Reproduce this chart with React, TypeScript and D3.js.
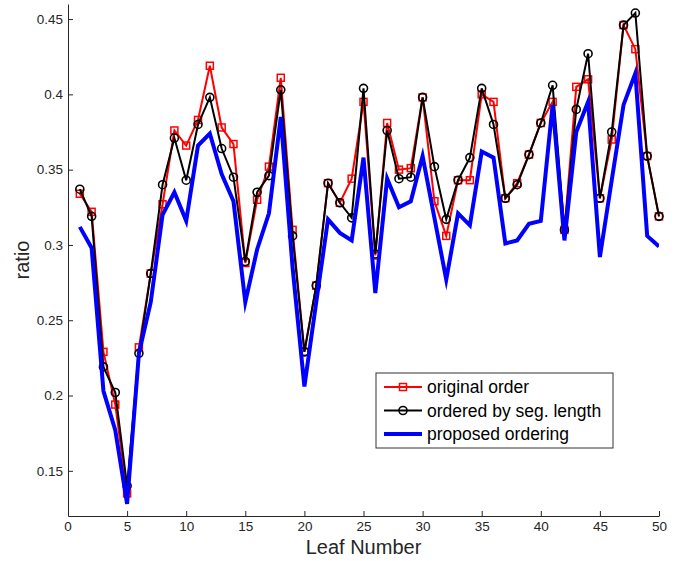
import { useEffect, useRef } from 'react';
import * as d3 from 'd3';

// leaf numbers 1..50
const leaves = [
  1, 2, 3, 4, 5, 6, 7, 8, 9, 10, 11, 12, 13, 14, 15, 16, 17, 18, 19, 20, 21, 22, 23, 24, 25,
  26, 27, 28, 29, 30, 31, 32, 33, 34, 35, 36, 37, 38, 39, 40, 41, 42, 43, 44, 45, 46, 47, 48, 49, 50,
];

const originalOrder = [
  0.334, 0.322, 0.229, 0.194, 0.135, 0.232, 0.281, 0.327, 0.376, 0.366,
  0.383, 0.419, 0.378, 0.367, 0.288, 0.33, 0.352, 0.411, 0.31, 0.229,
  0.273, 0.341, 0.328, 0.344, 0.395, 0.293, 0.381, 0.35, 0.351, 0.398,
  0.329, 0.306, 0.343, 0.343, 0.4, 0.395, 0.331, 0.341, 0.36, 0.381,
  0.395, 0.31, 0.405, 0.41, 0.331, 0.37, 0.446, 0.43, 0.359, 0.319,
];

const segLengthOrder = [
  0.337, 0.319, 0.219, 0.202, 0.14, 0.228, 0.281, 0.34, 0.371, 0.343,
  0.38, 0.398, 0.364, 0.345, 0.289, 0.335, 0.346, 0.403, 0.306, 0.229,
  0.273, 0.341, 0.328, 0.318, 0.404, 0.294, 0.376, 0.344, 0.345, 0.398,
  0.352, 0.317, 0.343, 0.358, 0.404, 0.38, 0.331, 0.34, 0.36, 0.381,
  0.406, 0.31, 0.39, 0.427, 0.331, 0.375, 0.446, 0.454, 0.359, 0.319,
];

const proposedOrder = [
  0.312, 0.298, 0.203, 0.177, 0.128, 0.228, 0.262, 0.32, 0.335, 0.316,
  0.366, 0.374, 0.347, 0.329, 0.262, 0.297, 0.321, 0.385, 0.285, 0.206,
  0.262, 0.317, 0.308, 0.303, 0.358, 0.268, 0.344, 0.325, 0.329, 0.359,
  0.318, 0.277, 0.321, 0.313, 0.362, 0.358, 0.301, 0.303, 0.314, 0.316,
  0.393, 0.303, 0.375, 0.395, 0.292, 0.343, 0.393, 0.414, 0.306, 0.299,
];

const xTicks = [5, 10, 15, 20, 25, 30, 35, 40, 45, 50];
const yTicks = [0.15, 0.2, 0.25, 0.3, 0.35, 0.4, 0.45];
const legendLabels = ['original order', 'ordered by seg. length', 'proposed ordering'];

export default function App() {
  const svgRef = useRef<SVGSVGElement>(null);

  useEffect(() => {
    if (!svgRef.current) return;
    document.body.style.margin = '0';

    const width = 690;
    const height = 561;
    const left = 68;
    const right = 659;
    const top = 4;
    const bottom = 516;
    const font = 'Liberation Sans, Arial, Helvetica, sans-serif';

    const svg = d3.select(svgRef.current);
    svg.selectAll('*').remove();
    svg.attr('width', width).attr('height', height);

    const x = d3.scaleLinear().domain([0, 50]).range([left, right]);
    const y = d3.scaleLinear().domain([0.12, 0.46]).range([bottom, top]);

    svg
      .append('defs')
      .append('clipPath')
      .attr('id', 'plot-clip')
      .append('rect')
      .attr('x', left)
      .attr('y', top)
      .attr('width', right - left)
      .attr('height', bottom - top);

    // axes (MATLAB style, ticks inward)
    const xAxis = svg
      .append('g')
      .attr('transform', `translate(0,${bottom})`)
      .call(d3.axisBottom(x).tickValues(xTicks).tickSizeInner(-5).tickSizeOuter(0).tickPadding(5));
    const yAxis = svg
      .append('g')
      .attr('transform', `translate(${left},0)`)
      .call(d3.axisLeft(y).tickValues(yTicks).tickFormat(d3.format('~g')).tickSizeInner(-5).tickSizeOuter(0).tickPadding(5));

    // the corner 0 label has no tick of its own
    xAxis
      .append('text')
      .attr('x', x(0))
      .attr('y', 5)
      .attr('text-anchor', 'middle')
      .attr('dy', '0.71em')
      .text('0');

    [xAxis, yAxis].forEach((g) => {
      g.select('.domain').attr('stroke', '#262626').attr('stroke-width', 1);
      g.selectAll('.tick line').attr('stroke', '#262626');
      g.selectAll('text').attr('fill', '#262626').style('font-family', font).style('font-size', '13.5px');
    });

    const line = d3
      .line<number>()
      .x((_, i) => x(leaves[i]))
      .y((d) => y(d));

    // original order
    svg
      .append('path')
      .datum(originalOrder)
      .attr('d', line)
      .attr('fill', 'none')
      .attr('stroke', '#ff0000')
      .attr('stroke-width', 2);
    svg
      .selectAll('rect.orig')
      .data(originalOrder)
      .join('rect')
      .attr('class', 'orig')
      .attr('x', (_, i) => x(leaves[i]) - 3.5)
      .attr('y', (d) => y(d) - 3.5)
      .attr('width', 7)
      .attr('height', 7)
      .attr('fill', 'none')
      .attr('stroke', '#ff0000')
      .attr('stroke-width', 1.5);

    // ordered by segment length
    svg
      .append('path')
      .datum(segLengthOrder)
      .attr('d', line)
      .attr('fill', 'none')
      .attr('stroke', '#000')
      .attr('stroke-width', 2);
    svg
      .selectAll('circle.seg')
      .data(segLengthOrder)
      .join('circle')
      .attr('class', 'seg')
      .attr('cx', (_, i) => x(leaves[i]))
      .attr('cy', (d) => y(d))
      .attr('r', 4)
      .attr('fill', 'none')
      .attr('stroke', '#000')
      .attr('stroke-width', 1.6);

    // proposed ordering (clipped so the sharp tip at leaf 5 stops at the axis)
    svg
      .append('path')
      .datum(proposedOrder)
      .attr('clip-path', 'url(#plot-clip)')
      .attr('d', line)
      .attr('fill', 'none')
      .attr('stroke', '#0000ff')
      .attr('stroke-width', 4)
      .attr('stroke-linejoin', 'miter')
      .attr('stroke-miterlimit', 6);

    // axis titles
    svg
      .append('text')
      .attr('x', (left + right) / 2)
      .attr('y', 554)
      .attr('text-anchor', 'middle')
      .style('font-family', font)
      .style('font-size', '20px')
      .attr('fill', '#262626')
      .text('Leaf Number');
    svg
      .append('text')
      .attr('transform', `translate(29,${(top + bottom) / 2}) rotate(-90)`)
      .attr('text-anchor', 'middle')
      .style('font-family', font)
      .style('font-size', '20px')
      .attr('fill', '#262626')
      .text('ratio');

    // legend
    const lg = svg.append('g').attr('transform', 'translate(376,373)');
    lg.append('rect')
      .attr('width', 237)
      .attr('height', 75)
      .attr('fill', '#fff')
      .attr('stroke', '#333')
      .attr('stroke-width', 1);
    const colors = ['#ff0000', '#000', '#0000ff'];
    legendLabels.forEach((label, i) => {
      const cy = 14 + i * 23.5;
      const row = lg.append('g').attr('transform', `translate(0,${cy})`);
      row.append('line')
        .attr('x1', 8)
        .attr('x2', 46)
        .attr('stroke', colors[i])
        .attr('stroke-width', i === 2 ? 4 : 2);
      if (i === 0) {
        row.append('rect')
          .attr('x', 23.5)
          .attr('y', -3.5)
          .attr('width', 7)
          .attr('height', 7)
          .attr('fill', 'none')
          .attr('stroke', colors[i])
          .attr('stroke-width', 1.5);
      }
      if (i === 1) {
        row.append('circle')
          .attr('cx', 27)
          .attr('r', 4)
          .attr('fill', 'none')
          .attr('stroke', colors[i])
          .attr('stroke-width', 1.6);
      }
      row.append('text')
        .attr('x', 51)
        .attr('dy', '0.35em')
        .style('font-family', font)
        .style('font-size', '17.5px')
        .attr('fill', '#000')
        .text(label);
    });
  }, []);

  return <svg ref={svgRef} style={{ display: 'block' }} />;
}
